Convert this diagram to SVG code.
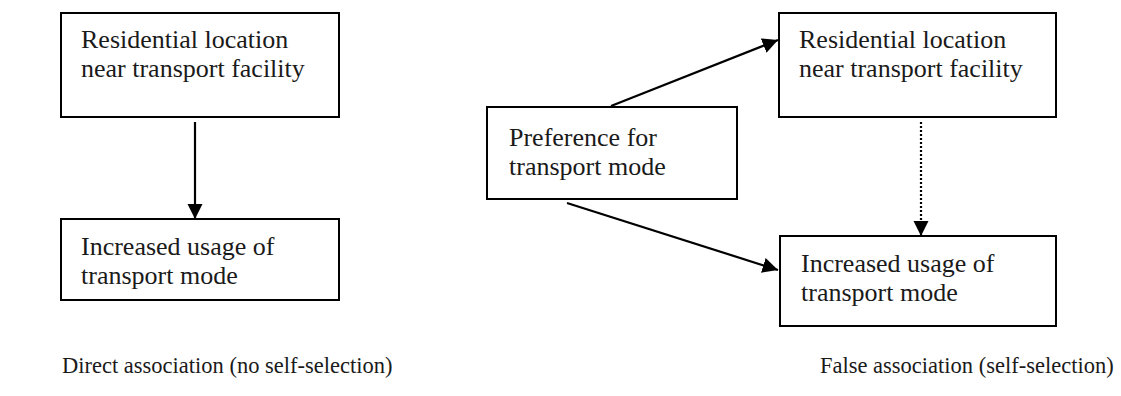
<svg xmlns="http://www.w3.org/2000/svg" width="1121" height="396" viewBox="0 0 1121 396">
<style>
  .box { fill: #ffffff; stroke: #000000; stroke-width: 2; }
  .t { font-family: "Liberation Serif", "Times New Roman", serif; font-size: 26px; fill: #1a1a1a; }
  .cap { font-family: "Liberation Serif", "Times New Roman", serif; font-size: 22.5px; fill: #1a1a1a; }
  .c { fill: none; stroke: #000000; stroke-width: 2.2; }
  .dot { stroke-dasharray: 2 2; }
</style>
<defs>
  <marker id="ah" viewBox="0 0 10 10" refX="10" refY="5" markerWidth="7" markerHeight="7" orient="auto" markerUnits="strokeWidth">
    <path d="M0,0 L10,5 L0,10 z" fill="#000000"/>
  </marker>
</defs>
<rect width="1121" height="396" fill="#ffffff"/>

<g id="connectors">
  <line class="c" x1="195" y1="122" x2="195" y2="219" marker-end="url(#ah)"/>
  <line class="c" x1="611" y1="106" x2="778" y2="40" marker-end="url(#ah)"/>
  <line class="c" x1="567" y1="203" x2="778" y2="270" marker-end="url(#ah)"/>
  <line class="c dot" x1="921" y1="122" x2="921" y2="236" marker-end="url(#ah)"/>
</g>

<g id="node-residential-left">
  <rect class="box" x="61" y="13" width="278" height="104"/>
  <text class="t" x="81" y="48">Residential location</text>
  <text class="t" x="81" y="77">near transport facility</text>
</g>
<g id="node-usage-left">
  <rect class="box" x="61" y="219" width="278" height="81"/>
  <text class="t" x="81" y="255">Increased usage of</text>
  <text class="t" x="81" y="284">transport mode</text>
</g>
<g id="node-preference">
  <rect class="box" x="487" y="107" width="250" height="92"/>
  <text class="t" x="509" y="146">Preference for</text>
  <text class="t" x="509" y="175">transport mode</text>
</g>
<g id="node-residential-right">
  <rect class="box" x="779" y="13" width="277" height="104"/>
  <text class="t" x="799" y="48">Residential location</text>
  <text class="t" x="799" y="77">near transport facility</text>
</g>
<g id="node-usage-right">
  <rect class="box" x="780" y="236" width="276" height="90"/>
  <text class="t" x="801" y="272">Increased usage of</text>
  <text class="t" x="801" y="301">transport mode</text>
</g>

<g id="captions">
  <text class="cap" x="62" y="373">Direct association (no self-selection)</text>
  <text class="cap" x="820" y="373">False association (self-selection)</text>
</g>
</svg>
